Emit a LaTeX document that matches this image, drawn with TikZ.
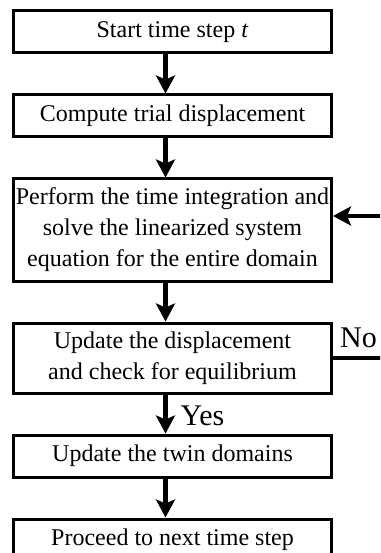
\documentclass[tikz,border=0pt]{standalone}
\usepackage{fontspec}
\setmainfont{Liberation Serif}
\usepackage{tikz}
\usetikzlibrary{arrows.meta, positioning}

\begin{document}
\begin{tikzpicture}[x=1pt, y=1pt,
    node distance=39pt,
    procbox/.style={draw, line width=3pt, minimum width=318pt, inner xsep=1pt,
      align=center, minimum height=42pt, font=\fontsize{24}{31}\selectfont},
    flow/.style={line width=4.5pt, -{Stealth[length=18pt, width=19pt, inset=4pt]}},
    lbl/.style={inner sep=0pt, font=\fontsize{30}{36}\selectfont}]
  \useasboundingbox (0,0) rectangle (380,-553);
  \clip (0,0) rectangle (380,-553);

  \node[procbox] (start) at (172.5,-32) {Start time step \textit{t}};
  \node[procbox, below=of start] (trial) {Compute trial displacement};
  \node[procbox, below=of trial, minimum height=102pt] (solve)
    {Perform the time integration and\\ solve the linearized system\\ equation for the entire domain};
  \node[procbox, below=of solve, minimum height=70pt] (check)
    {Update the displacement\\ and check for equilibrium};
  \node[procbox, below=of check] (twin) {Update the twin domains};
  \node[procbox, below=of twin] (next) {Proceed to next time step};

  % main flow
  \draw[flow] ([xshift=-7pt]start.south) -- ([xshift=-7pt]trial.north);
  \draw[flow] ([xshift=-7pt]trial.south) -- ([xshift=-7pt]solve.north);
  \draw[flow] ([xshift=-7pt]solve.south) -- ([xshift=-7pt]check.north);
  \draw[flow] ([xshift=-7pt]check.south) -- ([xshift=-7pt]twin.north);
  \draw[flow] ([xshift=-7pt]twin.south) -- ([xshift=-7pt]next.north);

  % loop back when not in equilibrium
  \draw[flow] (check.east) -- ++(70pt,0) |- ([yshift=14pt]solve.east);

  \node[lbl, anchor=base west] (no) at ([xshift=7pt, yshift=11pt]check.east) {No};
  \node[lbl, anchor=base west] (yes) at ([xshift=8pt, yshift=-31pt]check.south) {Yes};
\end{tikzpicture}
\end{document}
